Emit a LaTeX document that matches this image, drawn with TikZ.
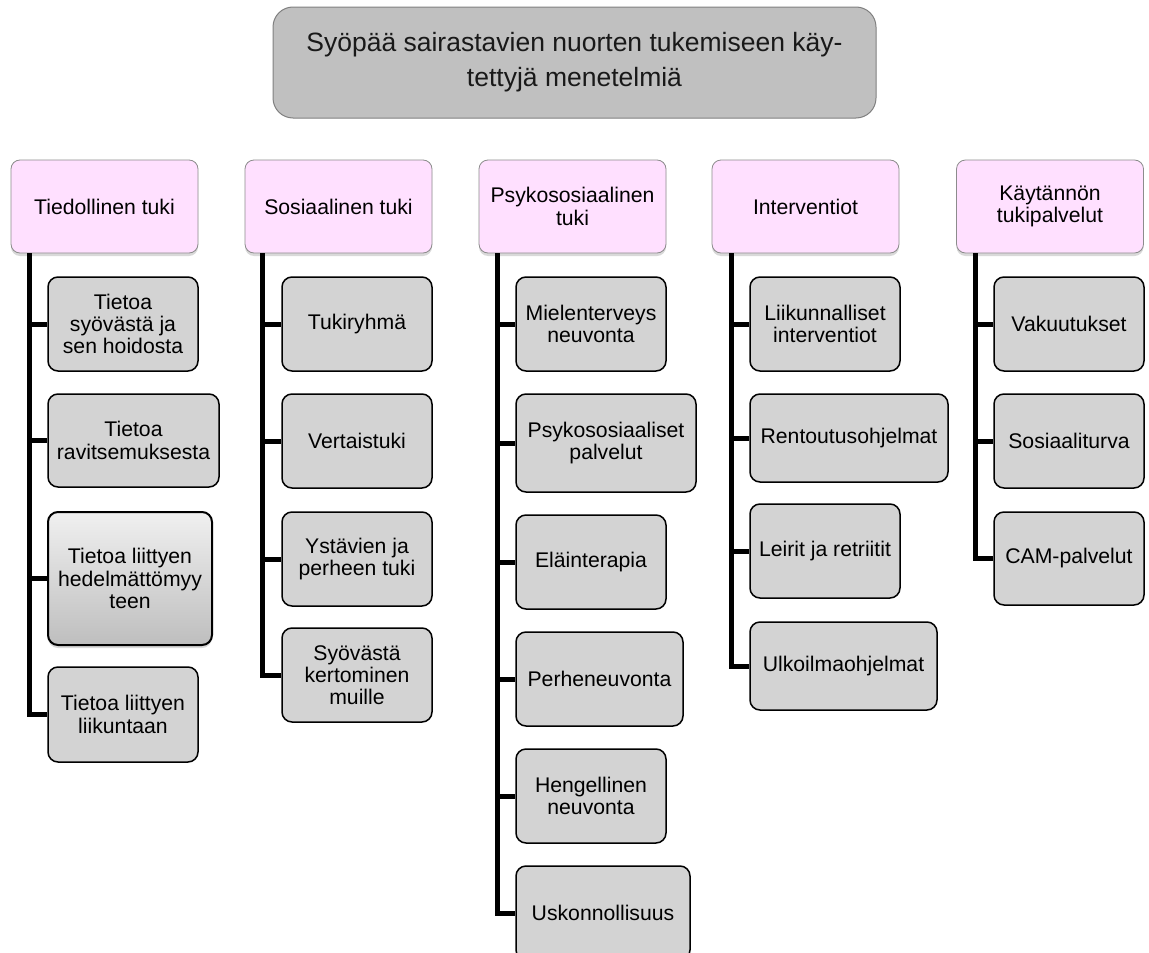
\documentclass[tikz,border=0pt]{standalone}
\usepackage{fontspec}
\setmainfont{Liberation Sans}
\usetikzlibrary{shadows,calc}
\definecolor{pinkfill}{RGB}{255,224,255}
\definecolor{hdrline}{RGB}{140,140,140}
\definecolor{childfill}{RGB}{211,211,211}
\definecolor{titlefill}{RGB}{192,192,192}
\definecolor{titleline}{RGB}{128,128,128}
\definecolor{gradtop}{RGB}{240,240,240}
\definecolor{gradbot}{RGB}{190,190,190}
\begin{document}
\begin{tikzpicture}[x=1pt,y=-1pt,
  every node/.style={font=\fontsize{21.2}{22.2}\selectfont, align=center, inner sep=0pt},
  sz/.style n args={2}{minimum width=#1pt, minimum height=#2pt},
  titlebox/.style={draw=titleline, fill=titlefill, rounded corners=20pt, line width=1pt,
    font=\fontsize{26.5}{35}\selectfont, text=black!90},
  hdr/.style={draw=hdrline, fill=pinkfill, rounded corners=9pt, line width=0.8pt,
    minimum width=187pt, minimum height=93pt,
    drop shadow={opacity=0.3, shadow xshift=0pt, shadow yshift=-3pt}},
  sub/.style={draw=black, fill=childfill, rounded corners=10pt, line width=1.5pt},
  subgrad/.style={draw=black, top color=gradtop, bottom color=gradbot, rounded corners=10pt, line width=2pt,
    drop shadow={opacity=0.3, shadow xshift=0pt, shadow yshift=-3pt}},
  conn/.style={line width=5pt, black}
]
\useasboundingbox (0,0) rectangle (1149,953);

% title
\node[titlebox, sz={603}{111}] (title) at (574.5,62.5) {Syöpää sairastavien nuorten tukemiseen käy-\\tettyjä menetelmiä};

% headers
\node[hdr] (h1) at (104.5,206.5) {Tiedollinen tuki};
\node[hdr] (h2) at (338.5,206.5) {Sosiaalinen tuki};
\node[hdr] (h3) at (572.5,206.5) {Psykososiaalinen\\tuki};
\node[hdr] (h4) at (805.5,206.5) {Interventiot};
\node[hdr] (h5) at (1050,206.5) {Käytännön\\tukipalvelut};

% column 1
\node[sub, sz={150}{94}] (c11) at (123,324) {Tietoa\\syövästä ja\\sen hoidosta};
\node[sub, sz={171}{93}] (c12) at (133.5,440.5) {Tietoa\\ravitsemuksesta};
\node[subgrad, sz={164}{133}] (c13) at (130,578.5) {Tietoa liittyen\\hedelmättömyy\\teen};
\node[sub, sz={150}{95}] (c14) at (123,714.5) {Tietoa liittyen\\liikuntaan};

% column 2
\node[sub, sz={150}{94}] (c21) at (357,324) {Tukiryhmä};
\node[sub, sz={150}{94}] (c22) at (357,441) {Vertaistuki};
\node[sub, sz={150}{94}] (c23) at (357,559) {Ystävien ja\\perheen tuki};
\node[sub, sz={150}{94}] (c24) at (357,675) {Syövästä\\kertominen\\muille};

% column 3
\node[sub, sz={150}{94}] (c31) at (591,324) {Mielenterveys\\neuvonta};
\node[sub, sz={180}{98}] (c32) at (606,443) {Psykososiaaliset\\palvelut};
\node[sub, sz={150}{94}] (c33) at (591,562) {Eläinterapia};
\node[sub, sz={167}{94}] (c34) at (599.5,679) {Perheneuvonta};
\node[sub, sz={150}{94}] (c35) at (591,796) {Hengellinen\\neuvonta};
\node[sub, sz={174}{94}] (c36) at (603,913) {Uskonnollisuus};

% column 4
\node[sub, sz={150}{94}] (c41) at (825,324) {Liikunnalliset\\interventiot};
\node[sub, sz={198}{88}] (c42) at (849,438) {Rentoutusohjelmat};
\node[sub, sz={150}{94}] (c43) at (825,551) {Leirit ja retriitit};
\node[sub, sz={187}{88}] (c44) at (843.5,666) {Ulkoilmaohjelmat};

% column 5
\node[sub, sz={150}{94}] (c51) at (1069,324) {Vakuutukset};
\node[sub, sz={150}{94}] (c52) at (1069,441) {Sosiaaliturva};
\node[sub, sz={150}{93}] (c53) at (1069,558.5) {CAM-palvelut};

% connector tops
\coordinate (v1) at ($(h1.south west)+(19,0)$);
\coordinate (v2) at ($(h2.south west)+(18,0)$);
\coordinate (v3) at ($(h3.south west)+(19,0)$);
\coordinate (v4) at ($(h4.south west)+(20,0)$);
\coordinate (v5) at ($(h5.south west)+(19,0)$);

\foreach \c in {c11,c12,c13,c14} \draw[conn] (v1) |- (\c.west);
\foreach \c in {c21,c22,c23,c24} \draw[conn] (v2) |- (\c.west);
\foreach \c in {c31,c32,c33,c34,c35,c36} \draw[conn] (v3) |- (\c.west);
\foreach \c in {c41,c42,c43,c44} \draw[conn] (v4) |- (\c.west);
\foreach \c in {c51,c52,c53} \draw[conn] (v5) |- (\c.west);
\end{tikzpicture}
\end{document}
